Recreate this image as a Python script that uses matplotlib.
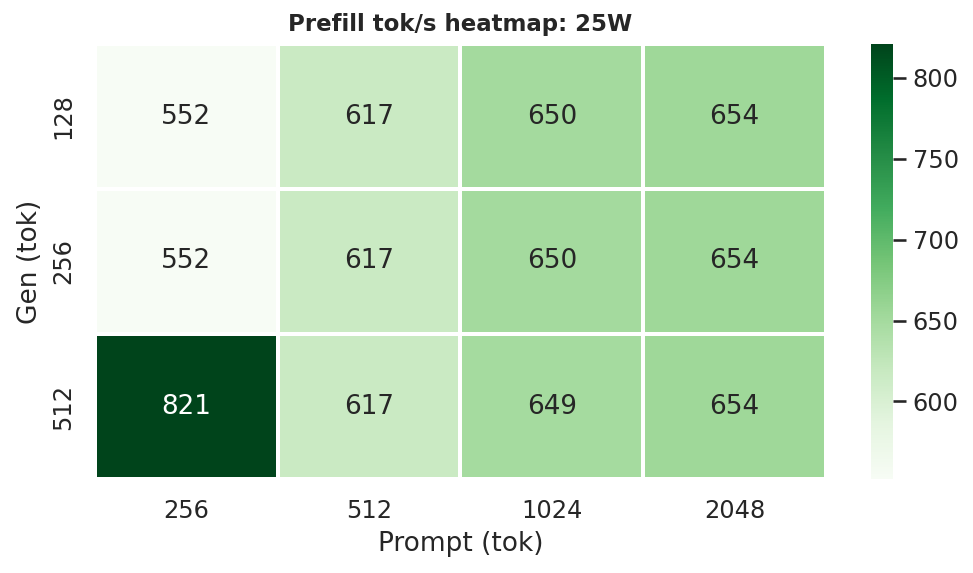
import numpy as np
import matplotlib
matplotlib.use("Agg")
import matplotlib.pyplot as plt
import seaborn as sns

prompt_labels = ["256", "512", "1024", "2048"]
gen_labels = ["128", "256", "512"]
values = [
    [552, 617, 650, 654],
    [552, 617, 650, 654],
    [821, 617, 649, 654],
]

sns.set_theme(style="white")
plt.rcParams['font.family'] = ['DejaVu Sans']

fig = plt.figure(figsize=(973/150, 573/150), dpi=150)
ax = fig.add_axes([95/973, 1-479/573, (826-95)/973, (479-44)/573])
cax = fig.add_axes([871/973, 1-479/573, (893-871)/973, (479-44)/573])

sns.heatmap(np.array(values), annot=True, fmt="d", cmap="Greens",
            linewidths=1, linecolor="white", ax=ax, cbar_ax=cax,
            xticklabels=prompt_labels, yticklabels=gen_labels,
            annot_kws={"fontsize": 12.6})
ax.set_xlabel("Prompt (tok)", fontsize=12.7)
ax.set_ylabel("Gen (tok)", fontsize=12.7)
ax.set_title("Prefill tok/s heatmap: 25W", fontsize=11, fontweight="bold")
ax.tick_params(axis="both", labelsize=11.6)
cax.tick_params(labelsize=11.6)
cax.set_yticks([600, 650, 700, 750, 800])

fig.savefig("out.png", dpi=150)
